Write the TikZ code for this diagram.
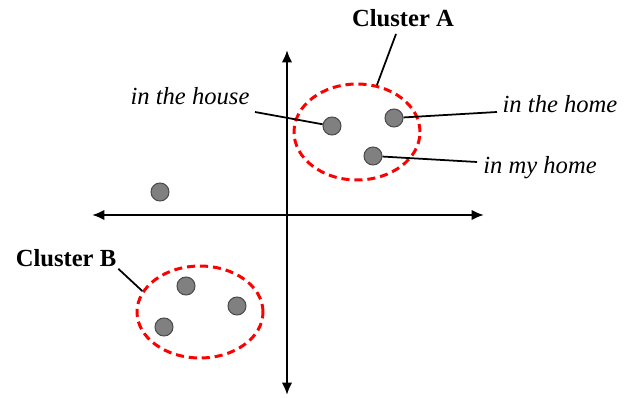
\documentclass[tikz,border=0pt]{standalone}
\usepackage{fontspec}
\setmainfont{Liberation Serif}
\usetikzlibrary{shapes.geometric, arrows.meta, positioning}
\tikzset{
  pt/.style = {
    circle, draw=black!70, fill=black!50, line width=0.6pt,
    minimum size=0.36cm, inner sep=0pt
  },
  cluster/.style = {
    ellipse, draw=red, line width=1.7pt,
    dash pattern=on 4.6pt off 2.8pt, inner sep=0pt
  },
  word/.style  = {font=\fontsize{14}{16}\selectfont\itshape, inner sep=1pt},
  cname/.style = {font=\fontsize{14}{16}\selectfont\bfseries, inner sep=1pt},
  axis/.style  = {{Latex[length=7pt,width=6pt]}-{Latex[length=7pt,width=6pt]}, line width=1.3pt},
  lead/.style  = {line width=1pt}
}
\begin{document}
\begin{tikzpicture}[x=0.02cm, y=-0.02cm]
\useasboundingbox (0,0) rectangle (635,398);

%% axes
\coordinate (xl) at (92,215);
\coordinate (xr) at (484,215);
\coordinate (yt) at (287,50);
\coordinate (yb) at (287,395);
\draw[axis] (xl) -- (xr);
\draw[axis] (yt) -- (yb);

%% cluster A
\node[cluster, minimum width=2.52cm, minimum height=1.92cm] (clA) at (357,132) {};
\node[pt] (a1) at (332,126) {};
\node[pt] (a2) at (394,118) {};
\node[pt] (a3) at (373,156) {};

%% lone point
\node[pt] (p0) at (160,192) {};

%% cluster B
\node[cluster, minimum width=2.52cm, minimum height=1.84cm] (clB) at (200,312) {};
\node[pt] (b1) at (186,286) {};
\node[pt] (b2) at (237,306) {};
\node[pt] (b3) at (164,327) {};

%% labels
\node[cname] (ca) at (403,18) {Cluster A};
\node[cname] (cb) at (66,258) {Cluster B};
\node[word] (house) at (190,96) {in the house};
\node[word] (home) at (560,104) {in the home};
\node[word] (my) at (540,168) {in my home};

%% leader lines
\coordinate (cs) at (396,34);
\coordinate (hs) at (255,112);
\coordinate (hm) at (497,112);
\coordinate (mh) at (477,162);
\draw[lead] (cs) -- (clA.67);
\draw[lead] (cb.south east) -- (clB.160);
\draw[lead] (hs) -- (a1);
\draw[lead] (hm) -- (a2);
\draw[lead] (mh) -- (a3);

\end{tikzpicture}
\end{document}
